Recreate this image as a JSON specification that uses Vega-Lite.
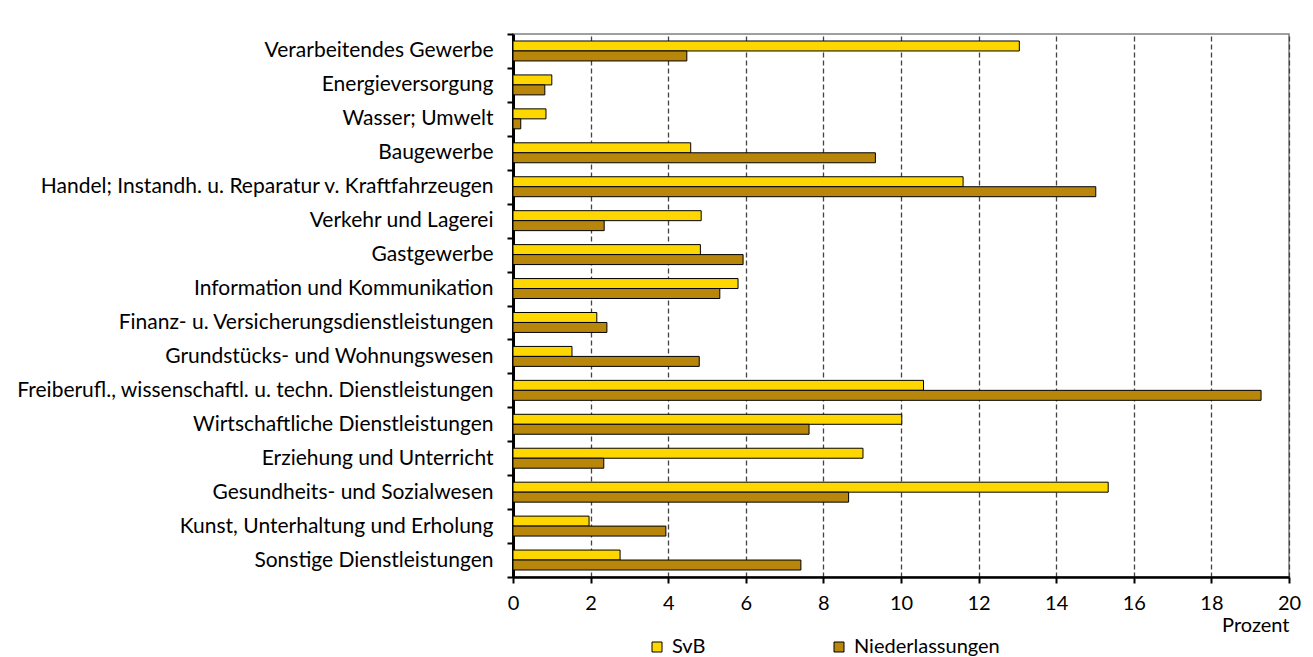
{
  "$schema": "https://vega.github.io/schema/vega-lite/v6.json",
  "autosize": {"type": "none"},
  "padding": {"left": 513, "top": 34, "right": 24, "bottom": 80},
  "width": 776,
  "height": 543,
  "background": "white",
  "config": {
    "font": "Lato",
    "view": {"stroke": "#808080", "strokeWidth": 1.5}
  },
  "data": {
    "values": [
      {"branche": "Verarbeitendes Gewerbe", "serie": "SvB", "wert": 13.05},
      {"branche": "Verarbeitendes Gewerbe", "serie": "Niederlassungen", "wert": 4.48},
      {"branche": "Energieversorgung", "serie": "SvB", "wert": 1.0},
      {"branche": "Energieversorgung", "serie": "Niederlassungen", "wert": 0.82},
      {"branche": "Wasser; Umwelt", "serie": "SvB", "wert": 0.85},
      {"branche": "Wasser; Umwelt", "serie": "Niederlassungen", "wert": 0.2},
      {"branche": "Baugewerbe", "serie": "SvB", "wert": 4.58},
      {"branche": "Baugewerbe", "serie": "Niederlassungen", "wert": 9.34},
      {"branche": "Handel; Instandh. u. Reparatur v. Kraftfahrzeugen", "serie": "SvB", "wert": 11.6},
      {"branche": "Handel; Instandh. u. Reparatur v. Kraftfahrzeugen", "serie": "Niederlassungen", "wert": 15.02},
      {"branche": "Verkehr und Lagerei", "serie": "SvB", "wert": 4.85},
      {"branche": "Verkehr und Lagerei", "serie": "Niederlassungen", "wert": 2.35},
      {"branche": "Gastgewerbe", "serie": "SvB", "wert": 4.83},
      {"branche": "Gastgewerbe", "serie": "Niederlassungen", "wert": 5.93},
      {"branche": "Information und Kommunikation", "serie": "SvB", "wert": 5.8},
      {"branche": "Information und Kommunikation", "serie": "Niederlassungen", "wert": 5.33},
      {"branche": "Finanz- u. Versicherungsdienstleistungen", "serie": "SvB", "wert": 2.16},
      {"branche": "Finanz- u. Versicherungsdienstleistungen", "serie": "Niederlassungen", "wert": 2.42},
      {"branche": "Grundstücks- und Wohnungswesen", "serie": "SvB", "wert": 1.52},
      {"branche": "Grundstücks- und Wohnungswesen", "serie": "Niederlassungen", "wert": 4.8},
      {"branche": "Freiberufl., wissenschaftl. u. techn. Dienstleistungen", "serie": "SvB", "wert": 10.58},
      {"branche": "Freiberufl., wissenschaftl. u. techn. Dienstleistungen", "serie": "Niederlassungen", "wert": 19.28},
      {"branche": "Wirtschaftliche Dienstleistungen", "serie": "SvB", "wert": 10.02},
      {"branche": "Wirtschaftliche Dienstleistungen", "serie": "Niederlassungen", "wert": 7.63},
      {"branche": "Erziehung und Unterricht", "serie": "SvB", "wert": 9.02},
      {"branche": "Erziehung und Unterricht", "serie": "Niederlassungen", "wert": 2.34},
      {"branche": "Gesundheits- und Sozialwesen", "serie": "SvB", "wert": 15.34},
      {"branche": "Gesundheits- und Sozialwesen", "serie": "Niederlassungen", "wert": 8.65},
      {"branche": "Kunst, Unterhaltung und Erholung", "serie": "SvB", "wert": 1.96},
      {"branche": "Kunst, Unterhaltung und Erholung", "serie": "Niederlassungen", "wert": 3.94},
      {"branche": "Sonstige Dienstleistungen", "serie": "SvB", "wert": 2.76},
      {"branche": "Sonstige Dienstleistungen", "serie": "Niederlassungen", "wert": 7.42}
    ]
  },
  "mark": {"type": "bar", "stroke": "black", "strokeWidth": 1},
  "encoding": {
    "y": {
      "field": "branche",
      "type": "nominal",
      "sort": null,
      "scale": {"paddingInner": 0, "paddingOuter": 0},
      "axis": {
        "title": null,
        "domainColor": "black",
        "domainWidth": 3,
        "tickBand": "extent",
        "tickColor": "black",
        "tickWidth": 2,
        "tickSize": 6,
        "labelFontSize": 21,
        "labelColor": "black",
        "labelPadding": 14,
        "labelLimit": 520
      }
    },
    "yOffset": {
      "field": "serie",
      "sort": ["SvB", "Niederlassungen"],
      "scale": {"paddingInner": 0, "paddingOuter": 0.7}
    },
    "x": {
      "field": "wert",
      "type": "quantitative",
      "scale": {"domain": [0, 20], "nice": false},
      "axis": {
        "title": "Prozent",
        "titleAnchor": "end",
        "titleAlign": "right",
        "titleFontWeight": "normal",
        "titleFontSize": 20,
        "titleColor": "black",
        "titlePadding": 2,
        "values": [0, 2, 4, 6, 8, 10, 12, 14, 16, 18, 20],
        "domainColor": "black",
        "domainWidth": 2.5,
        "tickColor": "black",
        "tickWidth": 2,
        "tickSize": 6,
        "labelFontSize": 20,
        "labelColor": "black",
        "labelPadding": 10,
        "labelFlush": false,
        "grid": true,
        "gridColor": "#444",
        "gridDash": [5, 3],
        "gridWidth": 1.3
      }
    },
    "color": {
      "field": "serie",
      "type": "nominal",
      "scale": {"domain": ["SvB", "Niederlassungen"], "range": ["#FFD700", "#B8860B"]},
      "legend": {
        "title": null,
        "orient": "none",
        "legendX": 134,
        "legendY": 603,
        "direction": "horizontal",
        "symbolType": "square",
        "symbolSize": 100,
        "symbolStrokeColor": "black",
        "symbolStrokeWidth": 1,
        "labelFontSize": 20,
        "labelColor": "black",
        "labelOffset": 5,
        "columnPadding": 123
      }
    }
  }
}
